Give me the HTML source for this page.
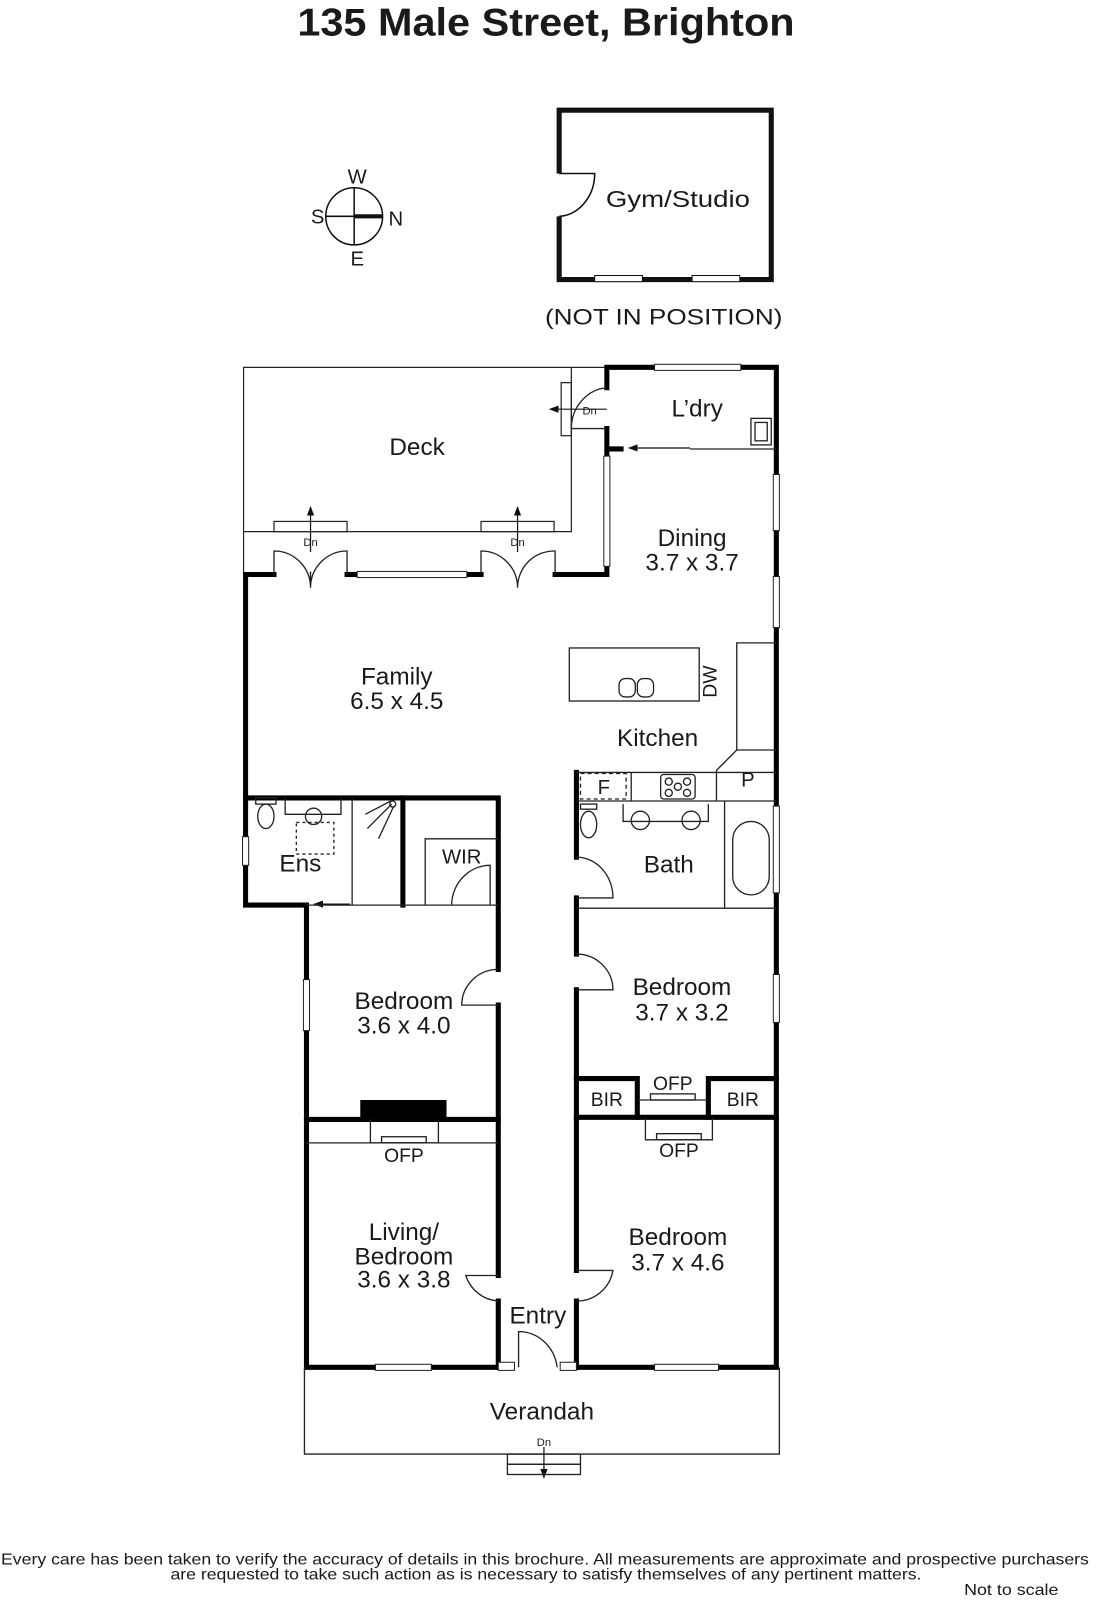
<!DOCTYPE html>
<html><head><meta charset="utf-8"><style>
html,body{margin:0;padding:0;background:#fff;width:1096px;height:1600px;overflow:hidden}
svg{display:block}
text{font-family:"Liberation Sans",sans-serif;fill:#1a1a1a}
</style></head><body>
<svg width="1096" height="1600" viewBox="0 0 1080 1568" preserveAspectRatio="none" xmlns="http://www.w3.org/2000/svg">
<defs><marker id="ah" markerWidth="8" markerHeight="8" refX="7" refY="4" orient="auto"><path d="M0,1 L8,4 L0,7 z" fill="#111"/></marker></defs>
<text x="293" y="35" font-size="38" font-weight="bold" textLength="490" lengthAdjust="spacingAndGlyphs">135 Male Street, Brighton</text>
<!-- compass -->
<g stroke="#111" fill="none" stroke-width="1.5">
<circle cx="349" cy="212" r="28"/>
<line x1="321" y1="212" x2="377" y2="212"/><line x1="349" y1="184" x2="349" y2="240"/>
<line x1="349" y1="212" x2="377" y2="212" stroke-width="4"/>
</g>
<g font-size="20" text-anchor="middle"><text x="352" y="180">W</text><text x="313" y="219">S</text><text x="390" y="221">N</text><text x="352" y="260">E</text></g>
<!-- gym -->
<g stroke="#111" fill="none">
<path d="M551,170 V108 H760 V274 H551 V212" stroke-width="5"/>
<path d="M551,170 H586 A37,42 0 0 1 551,212" stroke-width="1.5"/>
<rect x="586" y="270" width="47" height="6" fill="#fff" stroke-width="1"/>
<rect x="682" y="270" width="47" height="6" fill="#fff" stroke-width="1"/>
</g>
<text x="597" y="203" font-size="23" textLength="142" lengthAdjust="spacingAndGlyphs">Gym/Studio</text>
<text x="537" y="318" font-size="22" textLength="234" lengthAdjust="spacingAndGlyphs">(NOT IN POSITION)</text>

<g stroke="#222" fill="none" stroke-width="1.2">
<path d="M240,563 V360 H600"/>
<path d="M240,521 H563 V360"/>
<rect x="553" y="375" width="10" height="52"/>
<rect x="270" y="511" width="72" height="10"/><rect x="474" y="511" width="72" height="10"/>
</g>
<g stroke="#111" stroke-width="1.2" fill="none">
<line x1="306" y1="541" x2="306" y2="497" marker-end="url(#ah)"/>
<line x1="510" y1="541" x2="510" y2="497" marker-end="url(#ah)"/>
<line x1="598" y1="401" x2="542" y2="401" marker-end="url(#ah)"/>
<line x1="680" y1="439" x2="620" y2="439" marker-end="url(#ah)"/>
<line x1="345" y1="886" x2="310" y2="886" marker-end="url(#ah)"/>
<line x1="536" y1="1418" x2="536" y2="1448" marker-end="url(#ah)"/>
</g>
<g font-size="11" text-anchor="middle"><text x="306" y="535">Dn</text><text x="510" y="535">Dn</text><text x="581" y="406">Dn</text><text x="536" y="1417">Dn</text></g>

<g stroke="#000" stroke-width="5" fill="none" stroke-linecap="square">
<path d="M270,563 H242 V887 H302 V1340 H370"/>
<path d="M342,563 H352"/><path d="M460,563 H474"/><path d="M547,563 H598 V555"/>
<path d="M598,447 V420"/><path d="M598,380 V360 H645"/><path d="M730,360 H765 V465"/>
<path d="M765,520 V565"/><path d="M765,615 V790"/><path d="M765,875 V955"/><path d="M765,1002 V1340 H708"/>
<path d="M645,1340 H568"/><path d="M425,1340 H491"/>
<path d="M242,782 H491 V950"/><path d="M397,782 V887"/>
<path d="M491,985 V1250"/><path d="M568,757 V840"/><path d="M568,880 V935"/><path d="M568,970 V1245"/>
<path d="M491,1275 V1340"/><path d="M568,1275 V1340"/>
<path d="M302,1097 H491"/><path d="M568,1095 H765"/><path d="M568,1057 H628 V1095"/><path d="M765,1057 H698 V1095"/>
<path d="M600,440 H612"/>
</g>
<rect x="355" y="1078" width="85" height="19" fill="#000"/>
<g fill="#fff" stroke="#222" stroke-width="1">
<rect x="352" y="560" width="108" height="6"/><rect x="645" y="357" width="85" height="6"/>
<rect x="595" y="447" width="6" height="108"/>
<rect x="762" y="465" width="6" height="55"/><rect x="762" y="565" width="6" height="50"/>
<rect x="762" y="790" width="6" height="85"/><rect x="762" y="955" width="6" height="47"/>
<rect x="239" y="820" width="6" height="28"/><rect x="299" y="960" width="6" height="50"/>
<rect x="370" y="1337" width="55" height="6"/><rect x="645" y="1337" width="63" height="6"/>
<rect x="491" y="1335" width="16" height="8"/><rect x="552" y="1335" width="16" height="8"/>
</g>
<g stroke="#222" stroke-width="1.3" fill="none">
<path d="M270,563 V540 A36,36 0 0 1 306,576 V560 M306,576 A36,36 0 0 1 342,540 V563"/>
<path d="M474,563 V540 A36,36 0 0 1 510,576 M510,576 A36,36 0 0 1 547,540 V563"/>
<path d="M598,380 A38,40 0 0 0 563,420 H598"/>
<path d="M680,440 H765"/>
<rect x="561" y="635" width="128" height="52"/>
<rect x="610" y="665" width="16" height="18" rx="6"/><rect x="628" y="665" width="16" height="18" rx="6"/>
<path d="M726,735 V630 H765 M765,735 H726 L706,755 V785"/>
<path d="M568,757 H765 M568,785 H765"/>
<rect x="572" y="758" width="45" height="25" stroke-dasharray="4,3"/>
<path d="M622,757 V785"/>
<rect x="651" y="759" width="34" height="24" rx="3"/>
<circle cx="659" cy="766" r="3.5"/><circle cx="677" cy="766" r="3.5"/><circle cx="668" cy="771" r="3.5"/><circle cx="659" cy="777" r="3.5"/><circle cx="677" cy="777" r="3.5"/>
<rect x="740" y="410" width="20" height="26"/><rect x="744" y="414" width="12" height="18"/>
<path d="M302,887 H491"/><path d="M347,782 V887"/>
<ellipse cx="262" cy="800" rx="8" ry="12"/><rect x="252" y="782" width="20" height="6"/>
<path d="M281,782 V798 H336 V782"/><circle cx="309" cy="800" r="8"/>
<rect x="292" y="806" width="37" height="31" stroke-dasharray="3,3"/>
<path d="M360,798 L385,785 M362,812 L386,788 M373,822 L388,790"/><circle cx="387" cy="788" r="3"/>
<path d="M419,887 V822 H491"/><path d="M445,887 A38,40 0 0 1 483,848 V887"/>
<ellipse cx="580" cy="808" rx="8" ry="13"/><rect x="572" y="788" width="16" height="5"/>
<path d="M614,788 V805 H698 V788"/><circle cx="631" cy="804" r="9"/><circle cx="681" cy="804" r="9"/>
<path d="M714,785 V890"/><rect x="722" y="805" width="36" height="72" rx="18"/>
<path d="M568,840 A36,40 0 0 1 604,880 H568"/>
<path d="M568,890 H765"/>
<path d="M491,950 A36,35 0 0 0 455,985 H491"/>
<path d="M568,935 A36,35 0 0 1 604,970 H568"/>
<path d="M491,1250 H459 A36,36 0 0 0 491,1275"/>
<path d="M568,1245 H604 A36,36 0 0 1 568,1275"/>
<path d="M511,1340 V1305 A38,40 0 0 1 549,1340"/>
<path d="M302,1120 H491"/><path d="M365,1097 V1120 H432 V1097"/><rect x="376" y="1114" width="44" height="6"/>
<path d="M628,1078 H698"/><rect x="641" y="1072" width="44" height="6"/>
<path d="M636,1095 V1117 H702 V1095"/><rect x="647" y="1111" width="44" height="6"/>
<path d="M300,1340 V1425 H768 V1340"/>
<rect x="500" y="1425" width="72" height="10"/><rect x="500" y="1435" width="72" height="10"/>
</g>
<g font-size="24" text-anchor="middle">
<text x="411" y="446">Deck</text><text x="687" y="408">L’dry</text>
<text x="682" y="535">Dining</text><text x="682" y="559">3.7 x 3.7</text>
<text x="391" y="671">Family</text><text x="391" y="695">6.5 x 4.5</text>
<text x="648" y="731">Kitchen</text><text x="737" y="771" font-size="20">P</text><text x="595" y="778" font-size="20">F</text>
<text x="296" y="854">Ens</text><text x="455" y="846" font-size="20">WIR</text><text x="659" y="855">Bath</text>
<text x="398" y="989">Bedroom</text><text x="398" y="1013">3.6 x 4.0</text>
<text x="672" y="975">Bedroom</text><text x="672" y="1000">3.7 x 3.2</text>
<text x="598" y="1084" font-size="19">BIR</text><text x="732" y="1084" font-size="19">BIR</text>
<text x="663" y="1068" font-size="19">OFP</text><text x="398" y="1139" font-size="19">OFP</text><text x="669" y="1134" font-size="19">OFP</text>
<text x="398" y="1215">Living/</text><text x="398" y="1239">Bedroom</text><text x="398" y="1262">3.6 x 3.8</text>
<text x="668" y="1220">Bedroom</text><text x="668" y="1245">3.7 x 4.6</text>
<text x="530" y="1297">Entry</text><text x="534" y="1391">Verandah</text>
<text x="0" y="0" transform="translate(706,668) rotate(-90)" font-size="19">DW</text>
</g>
<g font-size="15">
<text x="1" y="1533" textLength="1072" lengthAdjust="spacingAndGlyphs">Every care has been taken to verify the accuracy of details in this brochure.  All measurements are approximate and prospective purchasers</text>
<text x="168" y="1548" textLength="740" lengthAdjust="spacingAndGlyphs">are requested to take such action as is necessary to satisfy themselves of any pertinent matters.</text>
<text x="950" y="1563" textLength="93" lengthAdjust="spacingAndGlyphs">Not to scale</text>
</g>
</svg>
</body></html>
